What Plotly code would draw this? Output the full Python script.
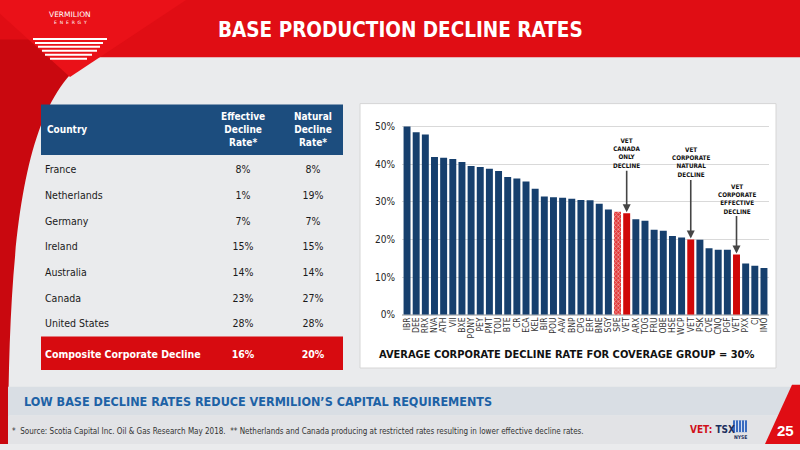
import plotly.graph_objects as go

# ---- chart data ----
tickers = ["IBR", "DEE", "RRX", "NVA", "ATH", "VII", "BXE", "PONY", "PEY", "PMT",
           "TOU", "BTE", "CR", "ECA", "KEL", "BIR", "POU", "AAV", "BNP", "CPG",
           "ERF", "BNE", "SGY", "SPE", "VET", "ARX", "TOG", "FRU", "OBE", "HSE",
           "WCP", "VET", "PSK", "CVE", "CNQ", "PGF", "VET", "PXX", "CJ", "IMO"]
decline_rates = [50.0, 48.5, 47.9, 41.9, 41.7, 41.4, 40.6, 39.5, 39.3, 38.8,
                 38.2, 36.6, 36.2, 35.4, 33.5, 31.4, 31.2, 31.1, 30.8, 30.5,
                 30.4, 29.5, 28.0, 27.4, 27.0, 25.4, 25.0, 22.6, 22.3, 20.9,
                 20.5, 20.0, 19.9, 17.7, 17.3, 17.3, 16.0, 13.6, 13.0, 12.4]
vet_callouts = ["VET<br>CANADA<br>ONLY<br>DECLINE",
                "VET<br>CORPORATE<br>NATURAL<br>DECLINE",
                "VET<br>CORPORATE<br>EFFECTIVE<br>DECLINE"]
y_ticks = [0, 10, 20, 30, 40, 50]

# ---- table data ----
table_headers = ["Country", "Effective<br>Decline<br>Rate*", "Natural<br>Decline<br>Rate*"]
countries = ["France", "Netherlands", "Germany", "Ireland", "Australia",
             "Canada", "United States", "Composite Corporate Decline"]
effective_rate = [8, 1, 7, 15, 14, 23, 28, 16]
natural_rate = [8, 19, 7, 15, 14, 27, 28, 20]

NARROW = "Liberation Sans Narrow, Arial Narrow, DejaVu Sans Condensed, sans-serif"
RED = "#e00d14"
NAVY = "#163f6d"


def px(x):
    return x / 800


def py(y):
    return 1 - y / 450


idx = list(range(len(tickers)))
bar_colors = []
bar_shapes = []
for t in tickers:
    if t == "VET":
        bar_colors.append("#d00808")
        bar_shapes.append("")
    elif t == "SPE":
        bar_colors.append("#e23a3a")
        bar_shapes.append("x")
    else:
        bar_colors.append(NAVY)
        bar_shapes.append("")

fig = go.Figure()

fig.add_trace(go.Bar(
    x=idx, y=decline_rates, width=0.76,
    marker=dict(color=bar_colors, line=dict(width=0),
                pattern=dict(shape=bar_shapes, bgcolor="#fbe3e3", size=3, solidity=0.45)),
    hoverinfo="skip", showlegend=False,
))

# ---- table drawn as text on its own axes (x in px inside table, y in rows) ----
last = len(countries) - 1
row_y = [i + (0.19 if i == last else 0) for i in range(len(countries))]
col_x = [4, 202, 272]
txt_color = ["#1a1a1a"] * last + ["white"]


def cell(s, i):
    return f"<b>{s}</b>" if i == last else s


columns = [
    [cell(c, i) for i, c in enumerate(countries)],
    [cell(f"{v}%", i) for i, v in enumerate(effective_rate)],
    [cell(f"{v}%", i) for i, v in enumerate(natural_rate)],
]
for cx, col, pos in zip(col_x, columns, ["middle right", "middle center", "middle center"]):
    fig.add_trace(go.Scatter(
        x=[cx] * len(col), y=row_y, text=col, mode="text", textposition=pos,
        textfont=dict(family=NARROW, size=10.5, color=txt_color),
        xaxis="x2", yaxis="y2", hoverinfo="skip", showlegend=False, cliponaxis=False,
    ))

shapes = []
# header banner and left arc
shapes.append(dict(type="rect", xref="paper", yref="paper", x0=0, x1=1, y0=py(58), y1=1,
                   fillcolor=RED, line=dict(width=0), layer="below"))
arc = (f"M 0,{py(40)} L {px(90)},{py(40)} L {px(90)},{py(58)} "
       f"C {px(20)},{py(105)} {px(9)},{py(250)} {px(8)},{py(450)} L 0,{py(450)} Z")
shapes.append(dict(type="path", xref="paper", yref="paper", path=arc,
                   fillcolor="#c9080f", line=dict(width=0), layer="below"))
tri = f"M 0,1 L {px(186)},1 L {px(70)},{py(78)} L 0,{py(14)} Z"
shapes.append(dict(type="path", xref="paper", yref="paper", path=tri,
                   fillcolor="#ea1118", line=dict(width=0), layer="below"))
# logo stripes
for yy, x0, x1 in [(39.5, 33, 107), (43.5, 35, 103), (47.5, 38, 100),
                   (51.5, 42, 97), (55.5, 45, 92), (59.5, 50, 87)]:
    shapes.append(dict(type="line", xref="paper", yref="paper", x0=px(x0), x1=px(x1),
                       y0=py(yy), y1=py(yy), line=dict(color="white", width=2)))
# chart panel
shapes.append(dict(type="rect", xref="paper", yref="paper", x0=px(360), x1=px(776),
                   y0=py(373), y1=py(105), fillcolor="white",
                   line=dict(color="#d6d6d6", width=1), layer="below"))
# table header box and composite row band
shapes.append(dict(type="rect", xref="paper", yref="paper", x0=px(41), x1=px(343),
                   y0=py(157), y1=py(106), fillcolor="#1c4d7e", line=dict(width=0), layer="below"))
shapes.append(dict(type="rect", xref="x2", yref="y2", x0=0, x1=302,
                   y0=row_y[last] - 0.73, y1=row_y[last] + 0.58,
                   fillcolor="#d70b10", line=dict(width=0), layer="below"))
# bottom bands
shapes.append(dict(type="rect", xref="paper", yref="paper", x0=px(8), x1=1,
                   y0=py(421), y1=py(392), fillcolor="#d9dee4", line=dict(width=0), layer="below"))
shapes.append(dict(type="rect", xref="paper", yref="paper", x0=px(8), x1=1,
                   y0=0, y1=py(421), fillcolor="#e2e3e6", line=dict(width=0), layer="below"))
corner = f"M {px(792)},{py(390)} L 1,{py(390)} L 1,0 L {px(765)},0 Z"
shapes.append(dict(type="path", xref="paper", yref="paper", path=corner,
                   fillcolor=RED, line=dict(width=0)))
# NYSE mark
shapes.append(dict(type="rect", xref="paper", yref="paper", x0=px(733), x1=px(747),
                   y0=py(438), y1=py(426), fillcolor="#3a6cc0", line=dict(width=0)))
for xx in [735.5, 738.5, 741.5, 744.5]:
    shapes.append(dict(type="line", xref="paper", yref="paper", x0=px(xx), x1=px(xx),
                       y0=py(438), y1=py(426), line=dict(color="white", width=0.8)))

annotations = [
    dict(text="<b>BASE PRODUCTION DECLINE RATES</b>", x=px(400), y=py(30),
         font=dict(family=NARROW, size=20.5, color="white")),
    dict(text="VERMILION", x=px(70), y=py(15), font=dict(family="DejaVu Sans", size=7.5, color="white")),
    dict(text="E  N  E  R  G  Y", x=px(70), y=py(23), font=dict(family="DejaVu Sans", size=4.5, color="white")),
    dict(text="<b>AVERAGE CORPORATE DECLINE RATE FOR COVERAGE GROUP = 30%</b>", x=px(566), y=py(359),
         font=dict(family=NARROW, size=11, color="#111111")),
    dict(text="<b>LOW BASE DECLINE RATES REDUCE VERMILION\u2019S CAPITAL REQUIREMENTS</b>",
         x=px(22), y=py(407), xanchor="left",
         font=dict(family=NARROW, size=12.5, color="#1d62a6")),
    dict(text="*  Source: Scotia Capital Inc. Oil & Gas Research May 2018.  ** Netherlands and Canada "
              "producing at restricted rates resulting in lower effective decline rates.",
         x=px(10), y=py(437), xanchor="left",
         font=dict(family=NARROW, size=8, color="#333333")),
    dict(text="<b><span style='color:#d0101a'>VET:</span> <span style='color:#1b2f5e'>TSX</span></b>",
         x=px(712), y=py(435), font=dict(family=NARROW, size=10)),
    dict(text="<b>NYSE</b>", x=px(740), y=py(443), font=dict(family=NARROW, size=5, color="#1b2f5e")),
    dict(text="<b>25</b>", x=px(785), y=py(436), font=dict(family="Liberation Sans, Arial", size=15, color="white")),
]
for a in annotations:
    a.setdefault("xanchor", "center")
    a.update(xref="paper", yref="paper", yanchor="middle", showarrow=False)

# table header labels
for cx, h in zip(col_x, table_headers):
    annotations.append(dict(
        text=f"<b>{h}</b>", x=cx, y=py(131.5), xref="x2", yref="paper",
        xanchor="left" if cx == col_x[0] else "center", yanchor="middle", showarrow=False,
        font=dict(family=NARROW, size=10, color="white"),
    ))

# VET callouts with arrows
vet_idx = [i for i, t in enumerate(tickers) if t == "VET"]
offsets = [-60, -77, -56]
for i, label, off in zip(vet_idx, vet_callouts, offsets):
    annotations.append(dict(
        x=i, y=decline_rates[i], xref="x", yref="y", text=f"<b>{label}</b>",
        showarrow=True, ax=0, ay=off, arrowhead=2, arrowsize=1, arrowwidth=1.6,
        arrowcolor="#454545", standoff=1, font=dict(family=NARROW, size=6.3, color="#111111"),
    ))

fig.update_layout(
    width=800, height=450,
    margin=dict(l=0, r=0, t=0, b=0),
    paper_bgcolor="#eaebed",
    plot_bgcolor="rgba(0,0,0,0)",
    shapes=shapes,
    annotations=annotations,
    bargap=0.2,
    xaxis=dict(domain=[px(402), px(769)], range=[-0.55, len(tickers) - 0.45],
               tickvals=idx, ticktext=tickers, tickangle=-90,
               tickfont=dict(family=NARROW, size=8.5, color="#333333"),
               showgrid=False, zeroline=False, fixedrange=True),
    yaxis=dict(domain=[py(319), py(120.7)], range=[0, 52],
               tickvals=y_ticks, ticktext=[f"{v}%" for v in y_ticks],
               tickfont=dict(family=NARROW, size=10, color="#222222"),
               gridcolor="#d9d9d9", zeroline=True, zerolinecolor="#c8c8c8",
               ticklabelstandoff=6, fixedrange=True),
    xaxis2=dict(domain=[px(41), px(343)], range=[0, 302], visible=False,
                anchor="y2", fixedrange=True),
    yaxis2=dict(domain=[py(378), py(160)], range=[7.885, -0.5], visible=False,
                anchor="x2", fixedrange=True),
)

fig.write_html("out.html", config=dict(displayModeBar=False),
               post_script="document.body.style.margin='0';document.body.style.overflow='hidden';")
